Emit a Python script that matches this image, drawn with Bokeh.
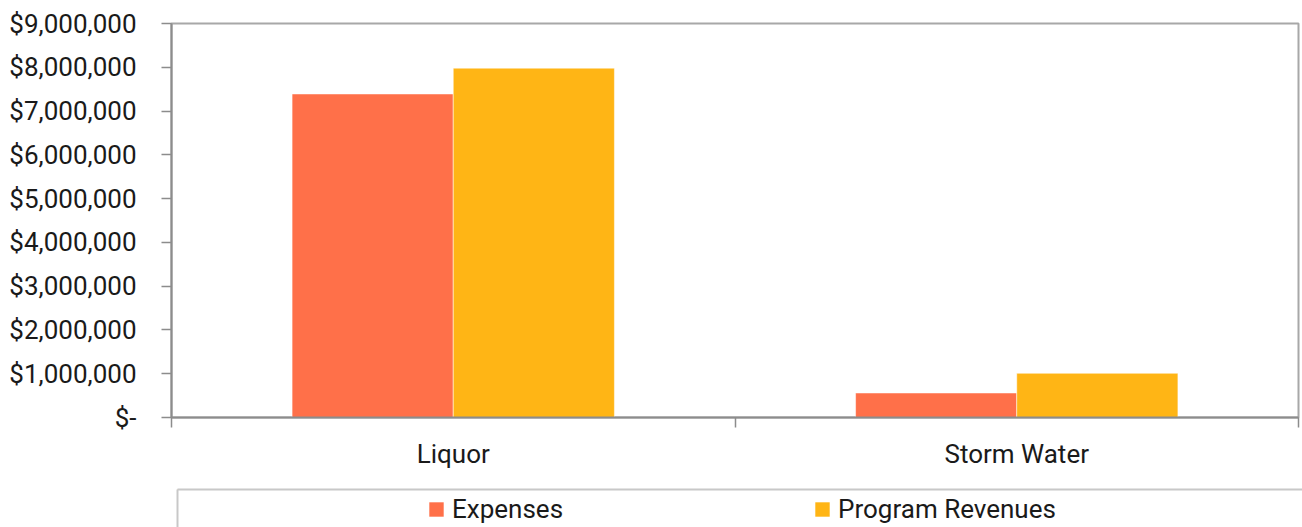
from bokeh.plotting import figure
from bokeh.layouts import column
from bokeh.models import (ColumnDataSource, FixedTicker, CustomJSTickFormatter, Range1d,
                          Legend, LegendItem, LinearAxis)
from bokeh.transform import dodge
from bokeh.embed import file_html
from bokeh.resources import INLINE

categories = ["Liquor", "Storm Water"]
expenses = [7390000, 560000]
revenues = [7980000, 1010000]
series_names = ["Expenses", "Program Revenues"]
y_ticks = [0, 1000000, 2000000, 3000000, 4000000, 5000000, 6000000, 7000000, 8000000, 9000000]

FONT = "Roboto"
TXT = "#1a1a1a"
COLORS = ["#FF7049", "#FFB515"]

src = ColumnDataSource(dict(
    x=[i + 0.5 for i in range(len(categories))],
    cat=categories,
    expenses=expenses,
    revenues=revenues,
))

p = figure(width=1302, height=480, output_backend="svg", toolbar_location=None,
           x_range=Range1d(0, len(categories)), y_range=Range1d(y_ticks[0], y_ticks[-1]),
           min_border_left=171, min_border_right=4, min_border_top=23, min_border_bottom=63)

bw = 0.286
p.vbar(x=dodge("x", -bw / 2, range=p.x_range), top="expenses", width=bw, source=src,
       fill_color=COLORS[0], line_color="white", line_alpha=0.5, line_width=1)
p.vbar(x=dodge("x", bw / 2, range=p.x_range), top="revenues", width=bw, source=src,
       fill_color=COLORS[1], line_color="white", line_alpha=0.5, line_width=1)

p.xgrid.visible = False
p.ygrid.visible = False
p.outline_line_color = "#a8a8a8"
p.outline_line_width = 2

# x axis: labels at category centres, tick marks at category boundaries
xa = p.xaxis[0]
xa.ticker = FixedTicker(ticks=[i + 0.5 for i in range(len(categories))],
                        minor_ticks=list(range(len(categories) + 1)))
xa.formatter = CustomJSTickFormatter(args=dict(cats=categories),
                                     code="const c = cats[Math.floor(tick)]; return c == null ? '' : c;")
xa.major_tick_in = 0
xa.major_tick_out = 0
xa.minor_tick_in = 0
xa.minor_tick_out = 10
xa.minor_tick_line_color = "#8c8c8c"
xa.minor_tick_line_width = 1.5
xa.axis_line_color = "#8c8c8c"
xa.axis_line_width = 2
xa.major_label_standoff = 11
xa.major_label_text_font = FONT
xa.major_label_text_font_size = "26px"
xa.major_label_text_color = TXT

ya = p.yaxis[0]
ya.ticker = FixedTicker(ticks=y_ticks)
ya.formatter = CustomJSTickFormatter(code="return tick == 0 ? '$-' : '$' + tick.toLocaleString('en-US');")
ya.minor_tick_line_color = None
ya.major_tick_in = 0
ya.major_tick_out = 10
ya.major_tick_line_color = "#8c8c8c"
ya.major_tick_line_width = 1.5
ya.axis_line_color = "#8c8c8c"
ya.axis_line_width = 2
ya.major_label_standoff = 25
ya.axis_label_standoff = 0
ya.major_label_text_font = FONT
ya.major_label_text_font_size = "26px"
ya.major_label_text_color = TXT

# legend strip below the chart; its top and left borders are drawn by bare axis lines
lg = figure(width=1302, height=47, output_backend="svg", toolbar_location=None,
            x_range=Range1d(100, 101), y_range=Range1d(0, 1), x_axis_location=None,
            y_axis_location=None,
            min_border_left=177, min_border_right=0, min_border_top=9, min_border_bottom=0)
lg.xgrid.visible = False
lg.ygrid.visible = False
lg.outline_line_color = None
for side in ("left", "above"):
    ax = LinearAxis(ticker=FixedTicker(ticks=[]), axis_line_color="#c8c8c8", axis_line_width=2,
                    major_tick_line_color=None, minor_tick_line_color=None,
                    major_label_text_font_size="0px")
    lg.add_layout(ax, side)
lr1 = lg.vbar(x="x", top="expenses", width=bw, source=src, fill_color=COLORS[0], line_color=None)
lr2 = lg.vbar(x="x", top="revenues", width=bw, source=src, fill_color=COLORS[1], line_color=None)

legend = Legend(items=[LegendItem(label=series_names[0], renderers=[lr1]),
                       LegendItem(label=series_names[1], renderers=[lr2])],
                orientation="horizontal", location=(250, 3),
                padding=0, spacing=250, glyph_width=18, glyph_height=18, label_standoff=7,
                label_text_font=FONT, label_text_font_size="26px", label_text_color=TXT,
                border_line_color=None, background_fill_alpha=0, margin=0)
lg.add_layout(legend, "center")

layout = column(column(p), column(lg), spacing=0)
open("out.html", "w").write(file_html(layout, INLINE))
